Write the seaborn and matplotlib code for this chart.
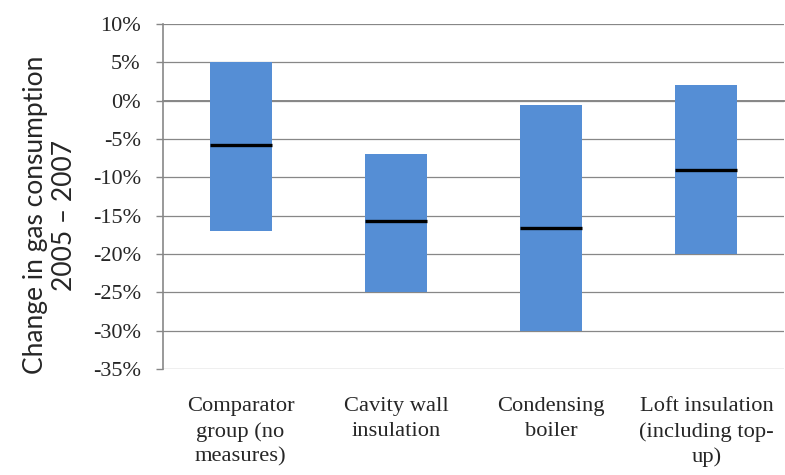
import numpy as np
import pandas as pd
import matplotlib
matplotlib.use("Agg")
import matplotlib.pyplot as plt
import matplotlib.transforms as mtransforms
import seaborn as sns

categories = ["Comparator\ngroup (no\nmeasures)", "Cavity wall\ninsulation",
              "Condensing\nboiler", "Loft insulation\n(including top-\nup)"]
low = [-17.0, -25.0, -30.0, -20.0]
high = [5.0, -7.0, -0.6, 2.0]
median = [-5.8, -15.7, -16.6, -9.0]

df = pd.DataFrame({"cat": categories, "low": low, "high": high, "median": median})
df["span"] = df["high"] - df["low"]

sns.set_style("white")
fig = plt.figure(figsize=(7.85, 4.75), dpi=100)
ax = fig.add_axes([163 / 785, 1 - 369 / 475, 621 / 785, 345 / 475])

grid_c = "#878787"
sns.barplot(data=df, x="cat", y="span", bottom=df["low"], color="#558ED5",
            saturation=1, width=0.4, linewidth=0, ax=ax, zorder=3)
xs = np.arange(len(df))
ax.hlines(df["median"], xs - 0.2, xs + 0.2, color="black", lw=2.4, zorder=4)

ax.set_ylim(-35, 10)
ax.set_xlim(-0.5, 3.5)
ax.set_yticks(np.arange(-35, 11, 5))
ax.set_yticklabels([f"{v}%" for v in range(-35, 11, 5)],
                   family="Liberation Serif", fontsize=16)
ax.yaxis.grid(True, color=grid_c, lw=0.9)
ax.set_axisbelow(True)

# x axis at zero with ticks between categories
ax.spines["bottom"].set_position(("data", 0))
ax.spines["bottom"].set_color(grid_c)
ax.spines["bottom"].set_linewidth(1.4)
ax.spines["bottom"].set_zorder(2)
ax.spines["left"].set_color(grid_c)
ax.spines["left"].set_linewidth(1.2)
ax.spines["top"].set_visible(False)
ax.spines["right"].set_visible(False)
ax.set_xticks([0.5, 1.5, 2.5])
ax.set_xticklabels([])
ax.tick_params(axis="x", direction="out", length=5, color=grid_c, width=1.2)
ax.tick_params(axis="y", direction="out", length=5, color=grid_c, width=1.0, pad=11,
               left=True)
ax.set_xlabel("")
ax.set_ylabel("")

trans = mtransforms.blended_transform_factory(ax.transData, ax.transAxes)
for x, lab in zip(xs, categories):
    ax.text(x, -0.082, lab, transform=trans, ha="center", va="top",
            family="Liberation Serif", fontsize=16.2, linespacing=1.38)

fig.text(50 / 785, 1 - 215 / 475, "Change in gas consumption\n2005 \u2013 2007",
         rotation=90, ha="center", va="center", family="Lato", fontsize=19,
         linespacing=1.2)

fig.savefig("out.png", dpi=100)
